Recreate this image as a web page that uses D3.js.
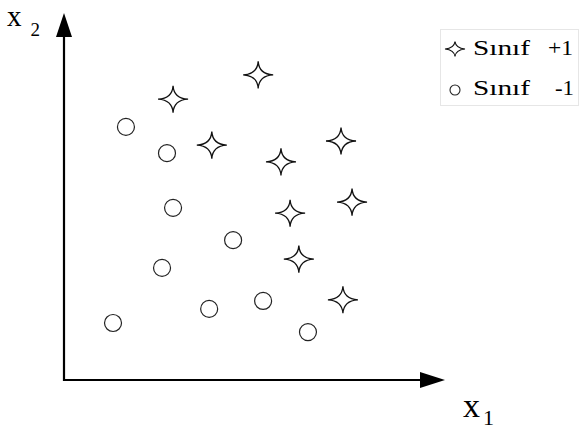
<!DOCTYPE html>
<html>
<head>
<meta charset="utf-8">
<script src="https://cdn.jsdelivr.net/npm/d3@7"></script>
<style>
  body { margin: 0; background: #fff; }
  svg { display: block; }
  text { font-family: "Liberation Serif", "DejaVu Serif", serif; }
</style>
</head>
<body>
<div id="chart"></div>
<script>
// class +1 (stars)
const plusX1 = [2.87, 3.89, 5.11, 7.29, 5.71, 7.58, 5.95, 6.18, 7.34];
const plusX2 = [7.39, 6.18, 8.03, 6.29, 5.74, 4.68, 4.39, 3.18, 2.11];
// class -1 (circles)
const minusX1 = [1.63, 2.71, 2.87, 4.45, 2.58, 1.29, 3.82, 5.24, 6.42];
const minusX2 = [6.66, 5.97, 4.53, 3.68, 2.95, 1.50, 1.87, 2.08, 1.26];

const legendNames = ["Sınıf", "Sınıf"];
const legendSigns = ["+1", "-1"];

const width = 580;
const height = 430;
const serif = "Liberation Serif";

const svg = d3.select("#chart")
              .append("svg")
              .attr("width", width)
              .attr("height", height);

const xScale = d3.scaleLinear().domain([0, 10]).range([64, 444]);
const yScale = d3.scaleLinear().domain([0, 10]).range([380, 0]);

// 4-pointed star with curved sides
function starPath(rx, ry) {
    const c = 0.8;
    return `M0,${-ry} Q${c},${-c} ${rx},0 Q${c},${c} 0,${ry} Q${-c},${c} ${-rx},0 Q${-c},${-c} 0,${-ry} Z`;
}

// axes
const x0 = xScale(0), y0 = yScale(0);
const xEnd = xScale(10), yEnd = yScale(9.66);

svg.append("line")
   .attr("x1", x0).attr("y1", y0)
   .attr("x2", xEnd - 20).attr("y2", y0)
   .attr("stroke", "#000").attr("stroke-width", 2.2);

svg.append("line")
   .attr("x1", x0).attr("y1", y0 + 1)
   .attr("x2", x0).attr("y2", yEnd + 20)
   .attr("stroke", "#000").attr("stroke-width", 2.2);

svg.append("path")
   .attr("d", `M${xEnd + 1},${y0} L${xEnd - 24},${y0 - 8} L${xEnd - 24},${y0 + 8} Z`)
   .attr("fill", "#000");

svg.append("path")
   .attr("d", `M${x0},${yEnd} L${x0 - 8},${yEnd + 24} L${x0 + 8},${yEnd + 24} Z`)
   .attr("fill", "#000");

// axis labels
const lab1 = svg.append("text")
   .attr("x", 463).attr("y", 417)
   .attr("font-family", serif)
   .attr("font-size", "34px");
lab1.append("tspan").text("x");
lab1.append("tspan").attr("dx", 3).attr("dy", 8).attr("font-size", "22px").text("1");

const lab2 = svg.append("text")
   .attr("x", 7).attr("y", 26)
   .attr("font-family", serif)
   .attr("font-size", "29px");
lab2.append("tspan").text("x");
lab2.append("tspan").attr("dx", 9).attr("dy", 10).attr("font-size", "19px").text("2");

// points
svg.append("g")
   .selectAll("circle")
   .data(minusX1.map((d, i) => [d, minusX2[i]]))
   .join("circle")
   .attr("cx", d => xScale(d[0]))
   .attr("cy", d => yScale(d[1]))
   .attr("r", 8.5)
   .attr("fill", "#fff")
   .attr("stroke", "#222")
   .attr("stroke-width", 1.2);

svg.append("g")
   .selectAll("path")
   .data(plusX1.map((d, i) => [d, plusX2[i]]))
   .join("path")
   .attr("transform", d => `translate(${xScale(d[0])},${yScale(d[1])})`)
   .attr("d", starPath(15, 13.5))
   .attr("fill", "#fff")
   .attr("stroke", "#111")
   .attr("stroke-width", 1.3);

// legend
const legend = svg.append("g");

legend.append("rect")
      .attr("x", 440.5).attr("y", 29.5)
      .attr("width", 138).attr("height", 76)
      .attr("fill", "#fff")
      .attr("stroke", "#ccc")
      .attr("stroke-dasharray", "1,1");

legend.append("path")
      .attr("transform", "translate(455,49)")
      .attr("d", starPath(10, 7.5))
      .attr("fill", "#fff")
      .attr("stroke", "#111")
      .attr("stroke-width", 1.1);

legend.append("circle")
      .attr("cx", 455).attr("cy", 90)
      .attr("r", 5)
      .attr("fill", "#fff")
      .attr("stroke", "#222")
      .attr("stroke-width", 1.1);

legend.selectAll("text.name")
      .data(legendNames)
      .join("text")
      .attr("class", "name")
      .attr("x", 473)
      .attr("y", (d, i) => 55 + i * 40)
      .attr("font-family", serif)
      .attr("font-size", "21px")
      .attr("textLength", 57)
      .attr("lengthAdjust", "spacingAndGlyphs")
      .text(d => d);

legend.selectAll("text.sign")
      .data(legendSigns)
      .join("text")
      .attr("class", "sign")
      .attr("x", (d, i) => i === 0 ? 548 : 555)
      .attr("y", (d, i) => 55 + i * 40)
      .attr("font-family", serif)
      .attr("font-size", "21px")
      .attr("textLength", (d, i) => i === 0 ? 25 : 19)
      .attr("lengthAdjust", "spacingAndGlyphs")
      .text(d => d);
</script>
</body>
</html>
